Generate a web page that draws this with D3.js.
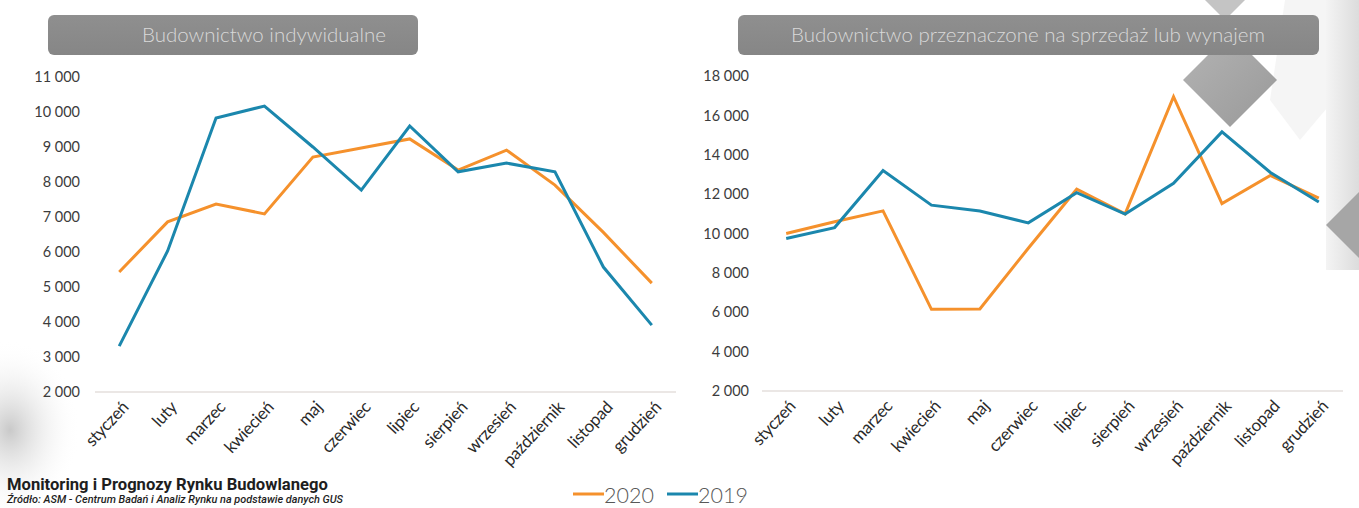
<!DOCTYPE html>
<html>
<head>
<meta charset="utf-8">
<script src="https://cdn.jsdelivr.net/npm/d3@7.9.0/dist/d3.min.js"></script>
<style>
  html, body { margin: 0; padding: 0; background: #fff; }
  svg { display: block; }
  text { font-family: Lato, "Open Sans", sans-serif; }
</style>
</head>
<body>
<svg id="chart" width="1359" height="508"></svg>
<script>
// months on the x axis
const months = ['styczeń', 'luty', 'marzec', 'kwiecień', 'maj', 'czerwiec',
  'lipiec', 'sierpień', 'wrzesień', 'październik', 'listopad', 'grudzień'];

// Budownictwo indywidualne
const indiv2020 = [5430, 6860, 7370, 7090, 8710, 8970, 9230, 8340, 8910, 7910, 6560, 5110];
const indiv2019 = [3310, 6030, 9830, 10170, 9000, 7770, 9600, 8290, 8540, 8290, 5570, 3910];
const indivTicks = [2000, 3000, 4000, 5000, 6000, 7000, 8000, 9000, 10000, 11000];

// Budownictwo przeznaczone na sprzedaz lub wynajem
const sale2020 = [10000, 10600, 11150, 6150, 6170, 9250, 12250, 11000, 16950, 11520, 12950, 11800];
const sale2019 = [9750, 10300, 13200, 11440, 11140, 10540, 12070, 10990, 12550, 15160, 13100, 11600];
const saleTicks = [2000, 4000, 6000, 8000, 10000, 12000, 14000, 16000, 18000];

const seriesYears = ['2020', '2019'];
const colors = { '2020': '#f5912c', '2019': '#1b87ad' };

const svg = d3.select('#chart');
const defs = svg.append('defs');

// --- background decoration ---
const g1 = defs.append('linearGradient').attr('id', 'diam').attr('x1', 0).attr('y1', 0).attr('x2', 1).attr('y2', 1);
g1.append('stop').attr('offset', '0%').attr('stop-color', '#b4b4b4');
g1.append('stop').attr('offset', '100%').attr('stop-color', '#999');
const g2 = defs.append('linearGradient').attr('id', 'panel').attr('x1', 0).attr('y1', 0).attr('x2', 1).attr('y2', 0);
g2.append('stop').attr('offset', '0%').attr('stop-color', '#f4f4f4');
g2.append('stop').attr('offset', '100%').attr('stop-color', '#dcdcdc');
const g3 = defs.append('radialGradient').attr('id', 'blob');
g3.append('stop').attr('offset', '0%').attr('stop-color', '#c9c9c9');
g3.append('stop').attr('offset', '100%').attr('stop-color', '#fff').attr('stop-opacity', 0);
const g4 = defs.append('linearGradient').attr('id', 'titlebg').attr('x1', 0).attr('y1', 0).attr('x2', 0).attr('y2', 1);
g4.append('stop').attr('offset', '0%').attr('stop-color', '#8f8f8f');
g4.append('stop').attr('offset', '100%').attr('stop-color', '#868686');

const deco = svg.append('g');
const diamond = (cx, cy, r) => `M${cx},${cy - r}L${cx + r},${cy}L${cx},${cy + r}L${cx - r},${cy}Z`;
deco.append('ellipse').attr('cx', 10).attr('cy', 430).attr('rx', 70).attr('ry', 90).attr('fill', 'url(#blob)');
deco.append('path').attr('d', 'M1285,0L1359,0L1359,70L1300,140L1270,100Z').attr('fill', '#f5f5f5');
deco.append('rect').attr('x', 1326).attr('y', 0).attr('width', 33).attr('height', 270).attr('fill', 'url(#panel)');
deco.append('path').attr('d', diamond(1225, -32, 52)).attr('fill', '#c4c4c4');
deco.append('path').attr('d', diamond(1230, 80, 47)).attr('fill', 'url(#diam)');
deco.append('path').attr('d', diamond(1362, 225, 36)).attr('fill', '#a6a6a6');

const fmt = d3.formatLocale({ decimal: ',', thousands: ' ', grouping: [3], currency: ['', ' zł'] }).format(',d');

function drawPanel(opts) {
  const { left, right, top, bottom, domain, ticks, data, title, box, titleX, titleAnchor, labelX } = opts;
  const g = svg.append('g');

  // title box
  g.append('rect').attr('x', box[0]).attr('y', 15).attr('width', box[1] - box[0]).attr('height', 40)
    .attr('rx', 6).attr('fill', 'url(#titlebg)');
  g.append('text').attr('x', titleX).attr('y', 42).attr('text-anchor', titleAnchor)
    .attr('font-size', 20.5).attr('font-weight', 300).attr('fill', '#d9d9d9').text(title);

  const x = d3.scalePoint().domain(months).range([left, right]).padding(0.5);
  const y = d3.scaleLinear().domain(domain).range([bottom, top]);

  // y tick labels
  g.append('g').selectAll('text').data(ticks).join('text')
    .attr('x', labelX).attr('y', d => y(d)).attr('dy', '0.36em')
    .attr('text-anchor', 'end').attr('font-size', 14.5).attr('fill', '#3c3c3c')
    .text(d => fmt(d));

  // x axis line
  g.append('line').attr('x1', left).attr('x2', right).attr('y1', y(domain[0])).attr('y2', y(domain[0]))
    .attr('stroke', '#d8cfcb').attr('stroke-width', 1.2);

  // month labels
  g.append('g').selectAll('text').data(months).join('text')
    .attr('transform', d => `translate(${x(d) + 6},${y(domain[0]) + 12}) rotate(-47)`)
    .attr('text-anchor', 'end').attr('dy', '0.35em')
    .attr('font-size', 17).attr('letter-spacing', -0.3).attr('fill', '#2a2a2a').text(d => d);

  const line = d3.line().x((d, i) => x(months[i])).y(d => y(d));
  seriesYears.forEach(yr => {
    g.append('path').datum(data[yr]).attr('d', line)
      .attr('fill', 'none').attr('stroke', colors[yr]).attr('stroke-width', 3)
      .attr('stroke-linejoin', 'miter');
  });
}

drawPanel({
  left: 95, right: 676, top: 77, bottom: 392,
  domain: [2000, 11000], ticks: indivTicks,
  data: { '2020': indiv2020, '2019': indiv2019 },
  title: 'Budownictwo indywidualne', box: [48, 418], titleX: 142, titleAnchor: 'start', labelX: 80
});

drawPanel({
  left: 762, right: 1343, top: 76, bottom: 391,
  domain: [2000, 18000], ticks: saleTicks,
  data: { '2020': sale2020, '2019': sale2019 },
  title: 'Budownictwo przeznaczone na sprzedaż lub wynajem', box: [738, 1319], titleX: 1028, titleAnchor: 'middle', labelX: 749
});

// legend
const legend = svg.append('g');
const legendItems = [{ yr: '2020', x: 573 }, { yr: '2019', x: 667 }];
legendItems.forEach(d => {
  legend.append('line').attr('x1', d.x).attr('x2', d.x + 31).attr('y1', 494).attr('y2', 494)
    .attr('stroke', colors[d.yr]).attr('stroke-width', 3);
  legend.append('text').attr('x', d.x + 31).attr('y', 503).attr('font-size', 21.5)
    .attr('font-weight', 300).attr('fill', '#585858').text(d.yr);
});

// footer
svg.append('text').attr('x', 7).attr('y', 490)
  .style('font-family', 'Roboto, sans-serif').attr('font-size', 16.6).attr('font-weight', 700)
  .attr('fill', '#1e1e1e').text('Monitoring i Prognozy Rynku Budowlanego');
svg.append('text').attr('x', 7).attr('y', 503)
  .style('font-family', 'Roboto, sans-serif').attr('font-size', 10.9).attr('font-weight', 500)
  .attr('font-style', 'italic').attr('fill', '#1e1e1e')
  .text('Źródło: ASM - Centrum Badań i Analiz Rynku na podstawie danych GUS');
</script>
</body>
</html>
